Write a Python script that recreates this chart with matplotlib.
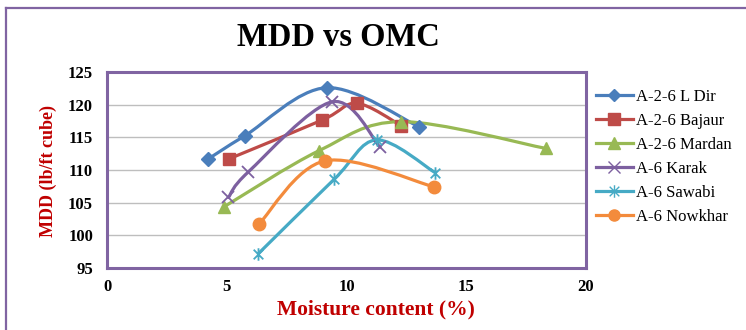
import numpy as np
import matplotlib
matplotlib.use("Agg")
import matplotlib.pyplot as plt
from matplotlib.path import Path
from matplotlib.patches import PathPatch
from matplotlib.lines import Line2D

plt.rcParams['font.family'] = ['Liberation Serif', 'DejaVu Serif']

# ---- data ----
series_names = ["A-2-6 L Dir", "A-2-6 Bajaur", "A-2-6 Mardan",
                "A-6 Karak", "A-6 Sawabi", "A-6 Nowkhar"]
ldir_x = [4.23, 5.76, 9.17, 13.04]
ldir_y = [111.7, 115.25, 122.6, 116.6]
bajaur_x = [5.09, 8.99, 10.43, 12.28]
bajaur_y = [111.7, 117.65, 120.2, 116.8]
mardan_x = [4.9, 8.85, 12.28, 18.33]
mardan_y = [104.4, 112.95, 117.4, 113.3]
karak_x = [5.07, 5.9, 9.41, 11.4]
karak_y = [105.8, 109.7, 120.45, 113.5]
sawabi_x = [6.32, 9.49, 11.26, 13.7]
sawabi_y = [97.2, 108.6, 114.6, 109.6]
nowkhar_x = [6.36, 9.1, 13.67]
nowkhar_y = [101.8, 111.4, 107.4]
x_ticks = [0, 5, 10, 15, 20]
y_ticks = [95, 100, 105, 110, 115, 120, 125]

# ---- style ----
colors = ["#4A7EBB", "#BE4B48", "#98B954", "#7D60A0", "#46AAC5", "#F38B3C"]
star = Path([(-1, -1), (1, 1), (-1, 1), (1, -1), (0, -1.3), (0, 1.3)],
            [Path.MOVETO, Path.LINETO, Path.MOVETO, Path.LINETO, Path.MOVETO, Path.LINETO])
markers = ["D", "s", "^", "x", star, "o"]
msizes = [7, 9, 9, 9, 9, 9]
frame_color = "#8064A2"

data = [(ldir_x, ldir_y), (bajaur_x, bajaur_y), (mardan_x, mardan_y),
        (karak_x, karak_y), (sawabi_x, sawabi_y), (nowkhar_x, nowkhar_y)]


def smooth_path(xs, ys):
    P = np.column_stack([xs, ys]).astype(float)
    n = len(P)
    verts = [P[0]]
    codes = [Path.MOVETO]
    for i in range(n - 1):
        p0 = P[i - 1] if i > 0 else P[i]
        p1 = P[i]
        p2 = P[i + 1]
        p3 = P[i + 2] if i + 2 < n else P[i + 1]
        c1 = p1 + (p2 - p0) / 6.0
        c2 = p2 - (p3 - p1) / 6.0
        verts += [c1, c2, p2]
        codes += [Path.CURVE4] * 3
    return Path(verts, codes)


W, H = 746, 330
fig = plt.figure(figsize=(W / 100, H / 100), dpi=100)
ax = fig.add_axes([107 / W, 1 - 268 / H, (586 - 107) / W, (268 - 72) / H])

ax.set_xlim(0, 20)
ax.set_ylim(95, 125)
ax.set_xticks(x_ticks)
ax.set_yticks(y_ticks)
ax.set_xticklabels([str(t) for t in x_ticks], fontsize=12, fontweight="bold")
ax.set_yticklabels([str(t) for t in y_ticks], fontsize=12, fontweight="bold")
ax.tick_params(axis="both", length=0)
ax.tick_params(axis="y", pad=10)
ax.tick_params(axis="x", pad=8)
ax.grid(axis="y", color="#BEBEBE", linewidth=1.0)
ax.set_axisbelow(True)
for s in ax.spines.values():
    s.set_color(frame_color)
    s.set_linewidth(2.2)

handles = []
for (xs, ys), c, m, ms, name in zip(data, colors, markers, msizes, series_names):
    ax.add_patch(PathPatch(smooth_path(xs, ys), fill=False, edgecolor=c,
                           linewidth=2.3, zorder=3, capstyle="round"))
    thin = (m == "x") if isinstance(m, str) else True
    if thin:
        ax.plot(xs, ys, linestyle="none", marker=m, markersize=ms,
                markeredgecolor=c, markeredgewidth=1.3, zorder=4)
        h = Line2D([], [], color=c, linewidth=2.3, marker=m, markersize=ms,
                   markeredgecolor=c, markeredgewidth=1.0)
    else:
        ax.plot(xs, ys, linestyle="none", marker=m, markersize=ms,
                color=c, markeredgecolor=c, zorder=4)
        h = Line2D([], [], color=c, linewidth=2.3, marker=m, markersize=ms - 1,
                   markeredgecolor=c)
    handles.append(h)

ax.set_xlabel("Moisture content (%)", fontsize=15.5, fontweight="bold",
              color="#C00000")
ax.xaxis.set_label_coords((376 - 107) / (586 - 107), -(309 - 268) / (268 - 72))
ax.xaxis.label.set_va("center")
ax.set_ylabel("MDD (lb/ft cube)", fontsize=13, fontweight="bold",
              color="#C00000")
ax.yaxis.set_label_coords(-(107 - 48) / (586 - 107), (268 - 171) / (268 - 72))
ax.yaxis.label.set_va("center")

fig.text(338 / W, 1 - 38 / H, "MDD vs OMC", fontsize=23.5, fontweight="bold",
         ha="center", va="center")

fig.legend(handles=handles, labels=series_names, loc="upper left",
           bbox_to_anchor=(596 / W, 1 - 89 / H), bbox_transform=fig.transFigure,
           frameon=False, borderpad=0, borderaxespad=0, handlelength=2.2,
           handletextpad=0.2, labelspacing=0.48, fontsize=12)

# outer chart frame
fig.add_artist(Line2D([6 / W, 6 / W], [0, 1 - 8 / H], transform=fig.transFigure,
                      color=frame_color, linewidth=1.6))
fig.add_artist(Line2D([6 / W, 1], [1 - 8 / H, 1 - 8 / H], transform=fig.transFigure,
                      color=frame_color, linewidth=1.6))

fig.savefig("out.png", dpi=100)
